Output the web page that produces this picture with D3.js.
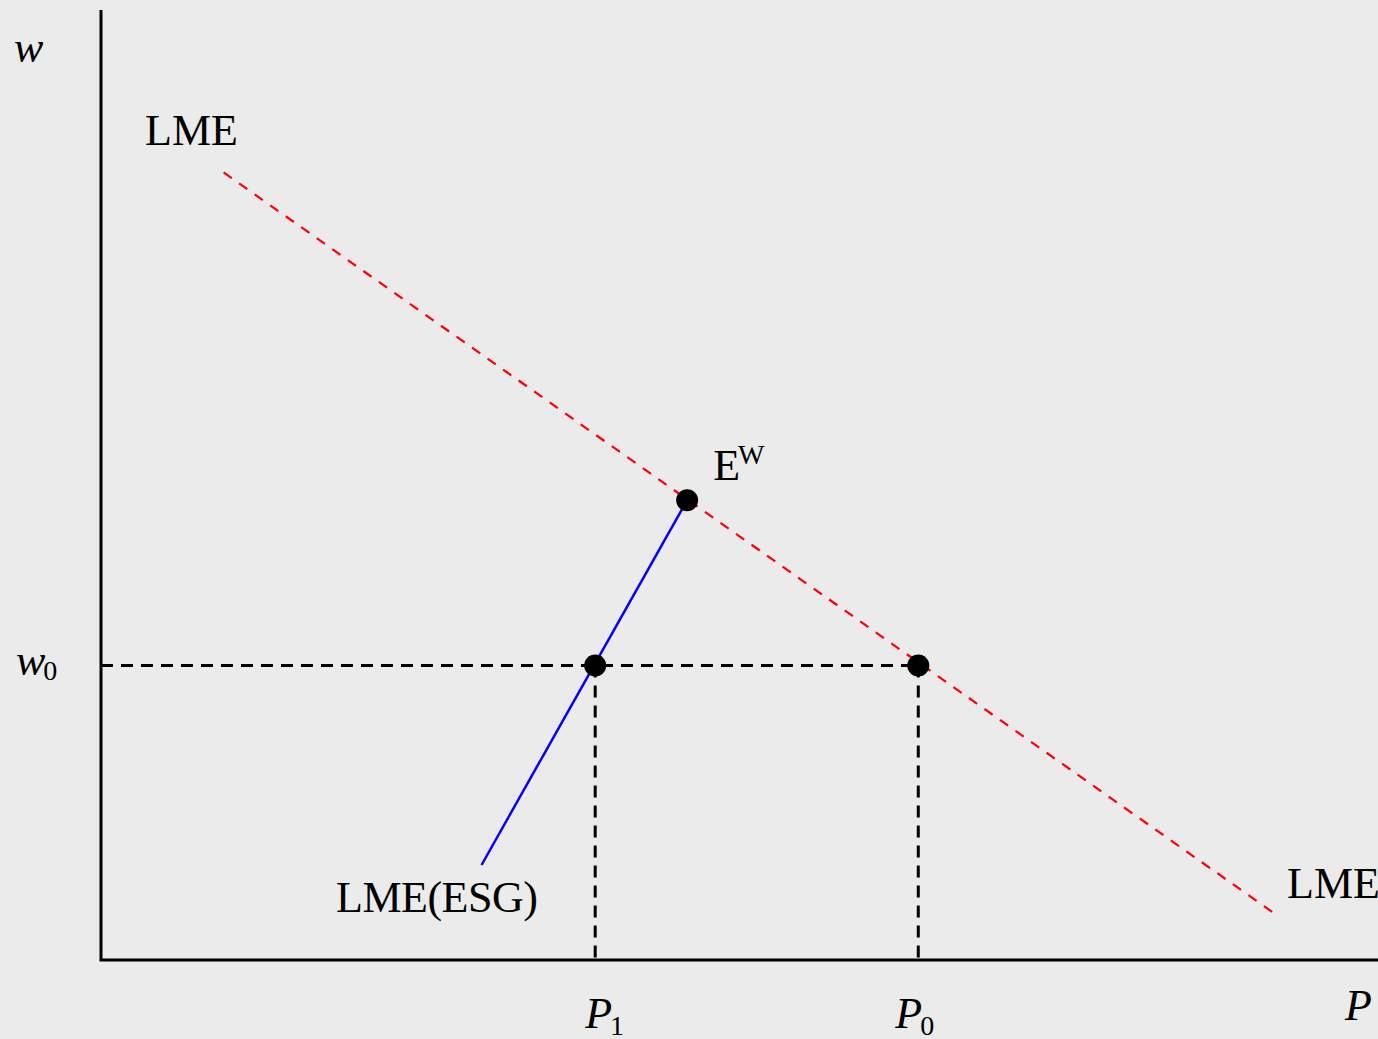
<!DOCTYPE html>
<html>
<head>
<meta charset="utf-8">
<script src="https://cdn.jsdelivr.net/npm/d3@7"></script>
<style>
  html, body { margin: 0; padding: 0; background: #ebebeb; }
  svg { display: block; }
  text { font-family: 'Liberation Serif', 'Times New Roman', serif; fill: #000; }
</style>
</head>
<body>
<div id="chart"></div>
<script>
// diagram values in abstract units (P on x, w on y, both 0..100)
const lmeLine = [[9.6, 82.9], [92.1, 4.7]]
const esgLine = [[29.8, 10.0], [45.9, 48.4]]
const w0 = 31.0
const p1 = 38.7
const p0 = 64.0
const ew = [45.9, 48.4]
const dots = [ew, [p1, w0], [p0, w0]]

const width = 1378
const height = 1039

const svg = d3.select('#chart')
  .append('svg')
  .attr('width', width)
  .attr('height', height)

svg.append('rect')
  .attr('width', width)
  .attr('height', height)
  .attr('fill', '#ebebeb')

const x = d3.scaleLinear().domain([0, 100]).range([101, 1378])
const y = d3.scaleLinear().domain([0, 100]).range([960, 10])

const line = d3.line().x(d => x(d[0])).y(d => y(d[1]))

// guide lines to the axes
const guides = [
  [[0, w0], [p0, w0]],
  [[p1, w0], [p1, 0]],
  [[p0, w0], [p0, 0]]
]
svg.append('g')
  .selectAll('path')
  .data(guides)
  .join('path')
  .attr('d', line)
  .attr('fill', 'none')
  .attr('stroke', '#000')
  .attr('stroke-width', 3)
  .attr('stroke-dasharray', '12,8')

// LME curve
svg.append('path')
  .attr('d', line(lmeLine))
  .attr('fill', 'none')
  .attr('stroke', '#ff0000')
  .attr('stroke-width', 2.2)
  .attr('stroke-dasharray', '10,9')

// LME(ESG) curve
svg.append('path')
  .attr('d', line(esgLine))
  .attr('fill', 'none')
  .attr('stroke', '#0000ff')
  .attr('stroke-width', 2.5)

// axes
svg.append('path')
  .attr('d', line([[0, 100], [0, 0], [100, 0]]))
  .attr('fill', 'none')
  .attr('stroke', '#000')
  .attr('stroke-width', 3)

svg.append('g')
  .selectAll('circle')
  .data(dots)
  .join('circle')
  .attr('cx', d => x(d[0]))
  .attr('cy', d => y(d[1]))
  .attr('r', 11)
  .attr('fill', '#000')

// labels
const big = 44
const small = 28

function label (tx, ty, main, sub, italic, subShift, anchor = 'start') {
  const t = svg.append('text')
    .attr('x', tx)
    .attr('y', ty)
    .attr('font-size', big)
    .attr('text-anchor', anchor)
  t.append('tspan')
    .attr('font-style', italic ? 'italic' : 'normal')
    .text(main)
  if (sub) {
    t.append('tspan')
      .attr('font-size', small)
      .attr('dy', subShift)
      .attr('dx', -2)
      .text(sub)
  }
  return t
}

label(14, 62, 'w', null, true)
label(16, 675, 'w', '0', true, 5)
label(145, 145, 'LME', null, false)
label(1287, 898, 'LME', null, false)
label(336, 912, 'LME(ESG)', null, false).attr('letter-spacing', -0.5)
label(x(ew[0]) + 26, y(ew[1]) - 20, 'E', 'W', false, -16)
label(x(p1) - 10, 1028, 'P', '1', true, 7)
label(x(p0) - 23, 1028, 'P', '0', true, 7)
label(1345, 1020, 'P', null, true)
</script>
</body>
</html>
